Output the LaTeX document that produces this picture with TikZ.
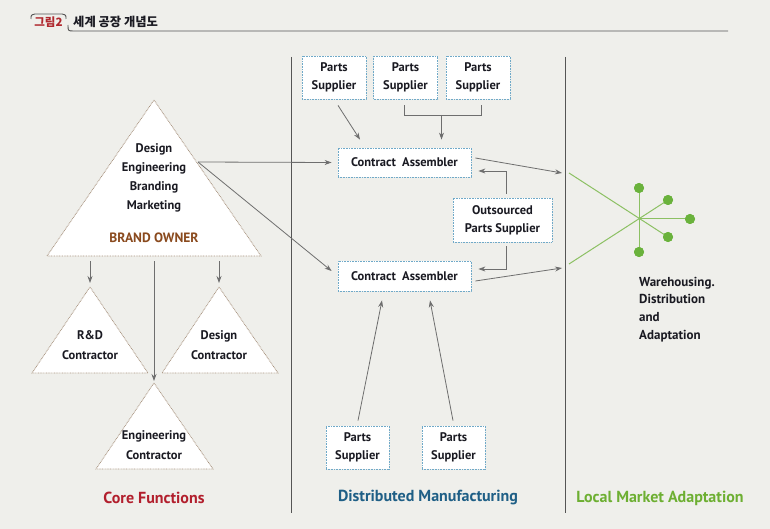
\documentclass[tikz,border=0pt]{standalone}
\usepackage{fontspec}
\setmainfont{PT Sans}
\newfontfamily\kr{Noto Sans CJK KR}
\usetikzlibrary{arrows.meta,calc}
\definecolor{bg}{HTML}{EFEFEB}
\definecolor{boxblue}{HTML}{6FA9C8}
\definecolor{tribrown}{HTML}{A8937F}
\definecolor{arrgray}{HTML}{6E6E6E}
\definecolor{sepgray}{HTML}{555555}
\definecolor{brandbrown}{HTML}{8A4A1E}
\definecolor{corered}{HTML}{B21F2D}
\definecolor{distblue}{HTML}{1F5F86}
\definecolor{locgreen}{HTML}{6DAF32}
\definecolor{linegreen}{HTML}{8CC063}
\definecolor{dotgreen}{HTML}{6AB23C}
\definecolor{titlered}{HTML}{B0282E}
\definecolor{txt}{HTML}{1A1A22}
\begin{document}
\begin{tikzpicture}[x=1pt,y=-1pt,
  font=\bfseries\fontsize{12.5}{18}\selectfont, text=txt,
  psbox/.style={draw=boxblue,line width=0.8pt,dash pattern=on 0.8pt off 0.8pt,fill=white,
    minimum width=64pt,minimum height=43pt,inner sep=0pt,align=center},
  cabox/.style={psbox,minimum width=133pt,minimum height=29pt},
  tri/.style={draw=tribrown,line width=0.8pt,dash pattern=on 0.8pt off 0.8pt,fill=white},
  arr/.style={draw=arrgray,line width=0.8pt,-{Stealth[length=7pt,width=5pt]}},
  ln/.style={draw=arrgray,line width=0.8pt},
  sep/.style={draw=sepgray,line width=1pt},
  gl/.style={draw=linegreen,line width=1pt},
  gdot/.style={circle,fill=dotgreen,minimum size=10pt,inner sep=0pt},
  ttl/.style={font=\bfseries\fontsize{16}{18}\selectfont}
]
\fill[bg] (0,0) rectangle (770,529);
\useasboundingbox (0,0) rectangle (770,529);

% title
\draw[draw=sepgray,line width=0.9pt] (31,19) .. controls (31,15) .. (35,14) -- (62,14) .. controls (66,15) .. (66,19);
\draw[draw=sepgray,line width=0.9pt] (68,25) .. controls (68,31) .. (74,31) -- (728,31);
\node[font=\kr\bfseries\fontsize{11.5}{14}\selectfont,text=titlered] (fig) at (48.5,22) {그림2};
\node[font=\kr\bfseries\fontsize{12.3}{14}\selectfont,anchor=west,inner sep=0pt] (ttltext) at (73,22) {세계 공장 개념도};

% separators
\coordinate (s1t) at (291,57); \coordinate (s1b) at (291,513);
\coordinate (s2t) at (565,57); \coordinate (s2b) at (565,513);
\draw[sep] (s1t) -- (s1b);
\draw[sep] (s2t) -- (s2b);

% triangles
\coordinate (boA) at (154,100); \coordinate (boL) at (47,256); \coordinate (boRt) at (261,256);
\draw[tri] (boA) -- (boRt) -- (boL) -- cycle;
\coordinate (rdA) at (90,287); \coordinate (rdL) at (32,373); \coordinate (rdR) at (148,373);
\draw[tri] (rdA) -- (rdR) -- (rdL) -- cycle;
\coordinate (dcA) at (219,287); \coordinate (dcL) at (162,373); \coordinate (dcR) at (278,373);
\draw[tri] (dcA) -- (dcR) -- (dcL) -- cycle;
\coordinate (ecA) at (154,383); \coordinate (ecL) at (96,469); \coordinate (ecR) at (213,469);
\draw[tri] (ecA) -- (ecR) -- (ecL) -- cycle;

\node[align=center,font=\bfseries\fontsize{12.5}{19}\selectfont] (bo) at (154,178) {Design\\Engineering\\Branding\\Marketing};
\node[text=brandbrown,font=\bfseries\fontsize{13.5}{16}\selectfont] (bolabel) at (154,238) {BRAND OWNER};
\node[align=center,font=\bfseries\fontsize{12.5}{20}\selectfont] (rd) at (90,345) {R\&D\\Contractor};
\node[align=center,font=\bfseries\fontsize{12.5}{20}\selectfont] (dc) at (219,345) {Design\\Contractor};
\node[align=center,font=\bfseries\fontsize{12.5}{20}\selectfont] (ec) at (154,445.5) {Engineering\\Contractor};

% left arrows
\coordinate (a1s) at (90,261); \coordinate (a1e) at (90,283);
\coordinate (a2s) at (219,261); \coordinate (a2e) at (219,283);
\coordinate (a3s) at (154,261); \coordinate (a3e) at (154,381);
\draw[arr] (a1s) -- (a1e);
\draw[arr] (a2s) -- (a2e);
\draw[arr] (a3s) -- (a3e);

% boxes
\node[psbox] (ps1) at (334,77.5) {Parts\\Supplier};
\node[psbox] (ps2) at (405.5,77.5) {Parts\\Supplier};
\node[psbox] (ps3) at (478,77.5) {Parts\\Supplier};
\node[cabox] (ca1) at (404.5,162.5) {Contract\ \ Assembler};
\node[cabox,minimum height=30pt] (ca2) at (404.5,276) {Contract\ \ Assembler};
\node[psbox,minimum width=99pt,minimum height=44pt] (os) at (502.5,220) {Outsourced\\Parts Supplier};
\node[psbox,minimum width=63pt] (bps1) at (357.5,447.5) {Parts\\Supplier};
\node[psbox,minimum width=63pt] (bps2) at (453.5,447.5) {Parts\\Supplier};

% brand owner to assemblers
\coordinate (boRR) at (198,162);
\draw[arr] (boRR) -- ([xshift=-6pt]ca1.west);
\draw[arr] (boRR) -- ([xshift=-6pt,yshift=5pt]ca2.west);

% suppliers to assembler 1
\draw[arr] ([xshift=4pt,yshift=-6pt]ps1.south) -- ([xshift=-44.5pt,yshift=8pt]ca1.north);
\draw[ln] ([xshift=-1.5pt,yshift=-6pt]ps2.south) -- ++(0,10) -| ([xshift=3pt,yshift=-6pt]ps3.south);
\coordinate (brk) at (441.5,115);
\draw[arr] (brk) -- ([xshift=37pt,yshift=8pt]ca1.north);

% outsourced
\draw[arr] ([xshift=3.5pt,yshift=4pt]os.north) |- ([xshift=7pt,yshift=-8.5pt]ca1.east);
\draw[arr] ([xshift=3.5pt,yshift=-4pt]os.south) |- ([xshift=7pt,yshift=7pt]ca2.east);

% bottom suppliers
\draw[arr] ([xshift=0.5pt,yshift=5pt]bps1.north) -- ([xshift=-22.5pt,yshift=-9pt]ca2.south);
\draw[arr] ([xshift=-0.5pt,yshift=5pt]bps2.north) -- ([xshift=25.5pt,yshift=-9pt]ca2.south);

% to local market
\coordinate (g1) at (562,173); \coordinate (g2) at (562,268);
\draw[arr] ([xshift=4pt,yshift=4.5pt]ca1.east) -- (g1);
\draw[arr] ([xshift=4pt,yshift=-5pt]ca2.east) -- (g2);

% green star
\coordinate (gc) at (639,219);
\coordinate (gl1) at (569,173); \coordinate (gl2) at (569,264);
\node[gdot] (d1) at (639,188) {};
\node[gdot] (d2) at (668,200) {};
\node[gdot] (d3) at (690,219) {};
\node[gdot] (d4) at (668,237) {};
\node[gdot] (d5) at (639,252) {};
\draw[gl] (gl1) -- (d4.center);
\draw[gl] (gl2) -- (d2.center);
\draw[gl] (d1.center) -- (d5.center);
\draw[gl] (gc) -- (d3.center);
\foreach \d in {d1,d2,d3,d4,d5} \node[gdot] at (\d) {};

\node[anchor=west,align=left,inner sep=0pt,font=\bfseries\fontsize{13}{17.7}\selectfont] (wh) at (639,309.5) {Warehousing.\\Distribution\\and\\Adaptation};

% section titles
\node[ttl,text=corered] (t1) at (154,498) {Core Functions};
\node[ttl,text=distblue] (t2) at (428,498) {Distributed Manufacturing};
\node[ttl,text=locgreen] (t3) at (660,498) {Local Market Adaptation};
\end{tikzpicture}
\end{document}
